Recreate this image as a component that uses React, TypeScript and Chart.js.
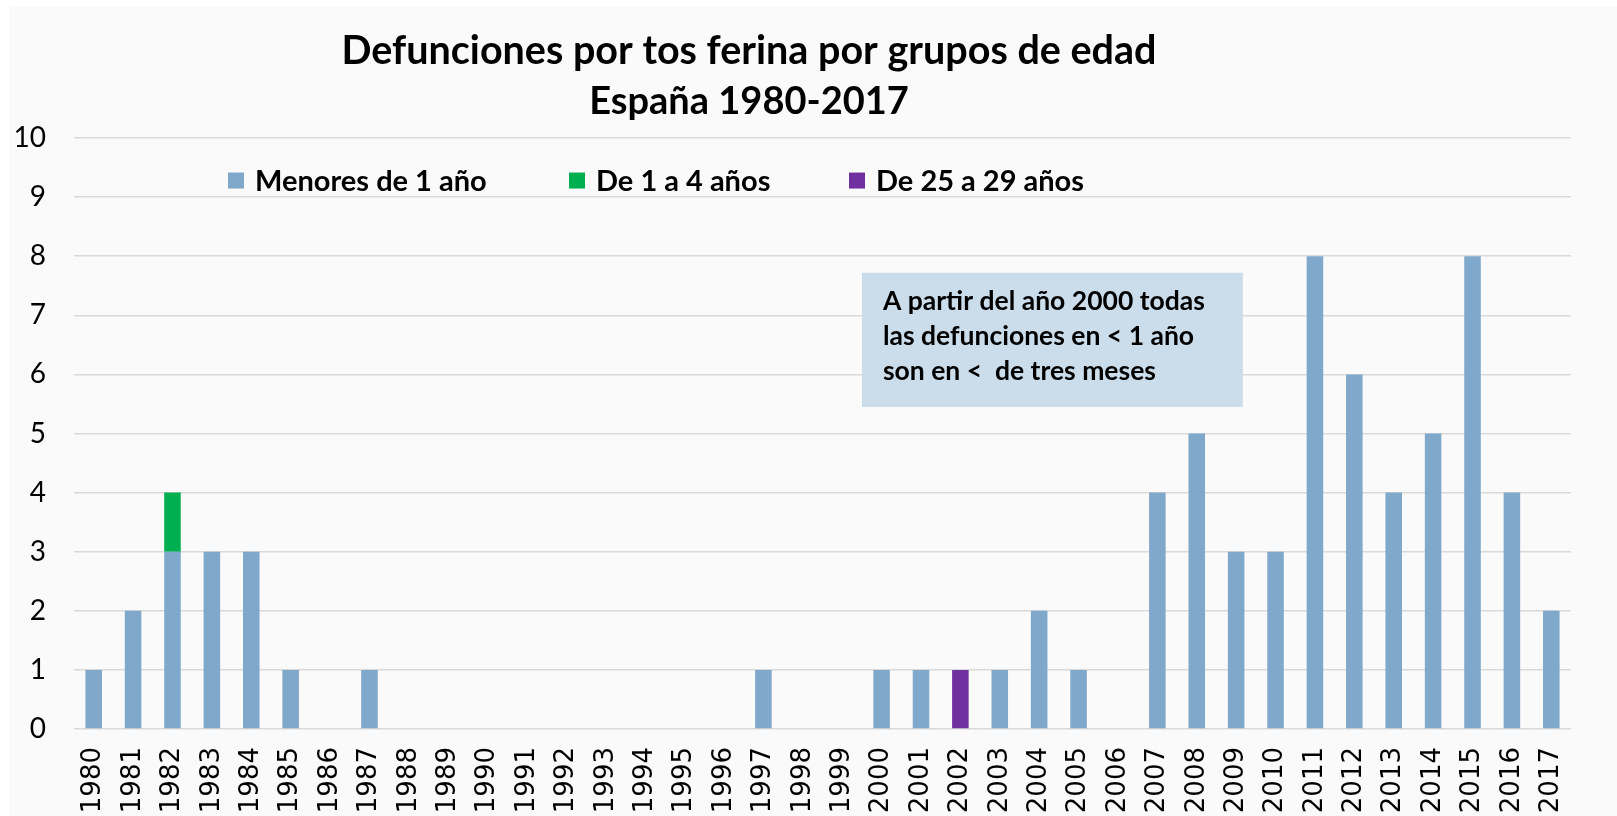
import React, { useEffect, useRef } from "react";
import { Chart, registerables } from "chart.js";

Chart.register(...registerables);

const years: string[] = [
  "1980", "1981", "1982", "1983", "1984", "1985", "1986", "1987", "1988", "1989",
  "1990", "1991", "1992", "1993", "1994", "1995", "1996", "1997", "1998", "1999",
  "2000", "2001", "2002", "2003", "2004", "2005", "2006", "2007", "2008", "2009",
  "2010", "2011", "2012", "2013", "2014", "2015", "2016", "2017",
];

const menores1: number[] = [
  1, 2, 3, 3, 3, 1, 0, 1, 0, 0,
  0, 0, 0, 0, 0, 0, 0, 1, 0, 0,
  1, 1, 0, 1, 2, 1, 0, 4, 5, 3,
  3, 8, 6, 4, 5, 8, 4, 2,
];

const de1a4: number[] = [
  0, 0, 1, 0, 0, 0, 0, 0, 0, 0,
  0, 0, 0, 0, 0, 0, 0, 0, 0, 0,
  0, 0, 0, 0, 0, 0, 0, 0, 0, 0,
  0, 0, 0, 0, 0, 0, 0, 0,
];

const de25a29: number[] = [
  0, 0, 0, 0, 0, 0, 0, 0, 0, 0,
  0, 0, 0, 0, 0, 0, 0, 0, 0, 0,
  0, 0, 1, 0, 0, 0, 0, 0, 0, 0,
  0, 0, 0, 0, 0, 0, 0, 0,
];

const seriesNames: string[] = ["Menores de 1 año", "De 1 a 4 años", "De 25 a 29 años"];
const seriesColors: string[] = ["#7fa8cb", "#00b050", "#7030a0"];

const titleLines: string[] = ["Defunciones por tos ferina por grupos de edad", "España 1980-2017"];
const noteLines: string[] = [
  "A partir del año 2000 todas",
  "las defunciones en < 1 año",
  "son en <  de tres meses",
];

const FONT = "Lato, 'Open Sans', sans-serif";

const overlayPlugin = {
  id: "overlay",
  afterDatasetsDraw(chart: any) {
    const { ctx, scales } = chart;
    const xs = scales.x;
    const ys = scales.y;
    ctx.save();

    // Title
    ctx.fillStyle = "#000";
    ctx.textAlign = "center";
    ctx.textBaseline = "middle";
    const tx = 740;
    ctx.font = `bold 39.5px ${FONT}`;
    ctx.fillText(titleLines[0], tx, 45);
    ctx.font = `bold 38px ${FONT}`;
    ctx.fillText(titleLines[1], tx, 96);

    // Legend
    const legendY = ys.getPixelForValue(9.28);
    const legendX = [219, 560, 840];
    ctx.font = `bold 29px ${FONT}`;
    ctx.textAlign = "left";
    for (let i = 0; i < seriesNames.length; i++) {
      ctx.fillStyle = seriesColors[i];
      ctx.fillRect(legendX[i], legendY - 8, 16, 16);
      ctx.fillStyle = "#000";
      ctx.fillText(seriesNames[i], legendX[i] + 27, legendY + 1);
    }

    // Note box
    const bx0 = xs.getPixelForValue(19.5);
    const bx1 = xs.getPixelForValue(29.17);
    const by0 = ys.getPixelForValue(7.72);
    const by1 = ys.getPixelForValue(5.45);
    ctx.fillStyle = "#cbdcea";
    ctx.fillRect(bx0, by0, bx1 - bx0, by1 - by0);
    ctx.fillStyle = "#000";
    ctx.font = `bold 26.5px ${FONT}`;
    ctx.textBaseline = "middle";
    for (let i = 0; i < noteLines.length; i++) {
      ctx.fillText(noteLines[i], bx0 + 21, by0 + 29 + i * 35);
    }
    ctx.restore();
  },
};

export default function App() {
  const ref = useRef<HTMLCanvasElement | null>(null);

  useEffect(() => {
    if (!ref.current) return;
    const chart = new Chart(ref.current, {
      type: "bar",
      data: {
        labels: years,
        datasets: [
          { label: seriesNames[0], data: menores1, backgroundColor: seriesColors[0] },
          { label: seriesNames[1], data: de1a4, backgroundColor: seriesColors[1] },
          { label: seriesNames[2], data: de25a29, backgroundColor: seriesColors[2] },
        ],
      },
      options: {
        animation: false,
        responsive: false,
        maintainAspectRatio: false,
        datasets: { bar: { barPercentage: 0.42, categoryPercentage: 1.0 } },
        layout: { padding: { top: 132, right: 46, left: 0, bottom: 0 } },
        plugins: {
          legend: { display: false },
          title: { display: false },
          tooltip: { enabled: false },
        },
        scales: {
          x: {
            stacked: true,
            grid: { display: false, drawTicks: false },
            border: { display: false },
            ticks: {
              maxRotation: 90,
              minRotation: 90,
              autoSkip: false,
              padding: 18,
              color: "#000",
              font: { family: "'DejaVu Sans', sans-serif", size: 26 },
            },
            afterFit(scale: any) {
              scale.height = 87;
            },
          },
          y: {
            stacked: true,
            min: 0,
            max: 10,
            ticks: {
              stepSize: 1,
              padding: 28,
              color: "#000",
              font: { family: FONT, size: 28 },
            },
            grid: { color: "#d9d9d9", lineWidth: 1.5, drawTicks: false },
            border: { display: false },
            afterFit(scale: any) {
              scale.width = 65;
            },
          },
        },
      },
      plugins: [overlayPlugin],
    });
    return () => chart.destroy();
  }, []);

  return (
    <div
      style={{
        position: "absolute",
        left: 9,
        top: 6,
        width: 1608,
        height: 810,
        background: "#fafafa",
      }}
    >
      <canvas ref={ref} width={1608} height={810} style={{ display: "block" }} />
    </div>
  );
}
